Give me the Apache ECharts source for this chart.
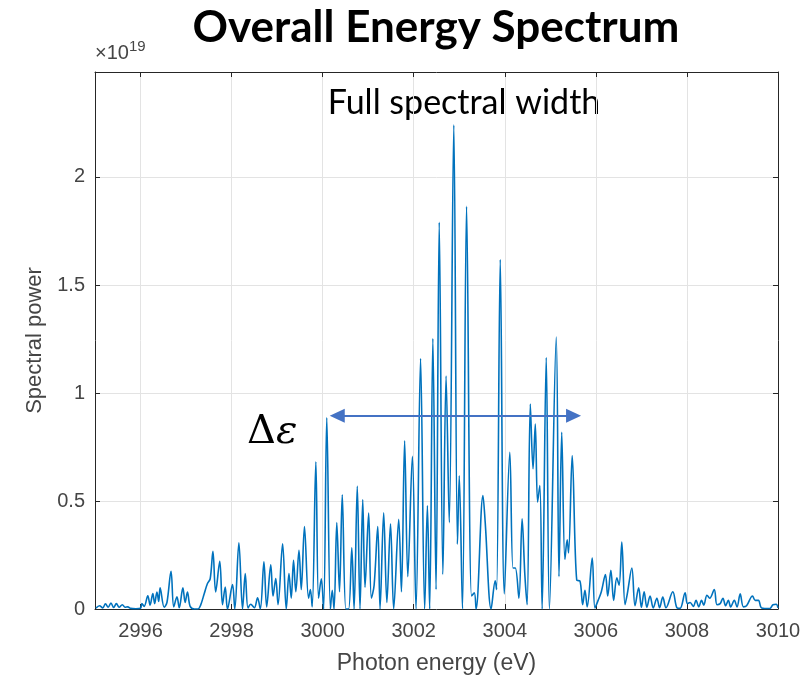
<!DOCTYPE html>
<html>
<head>
<meta charset="utf-8">
<style>
  html, body { margin: 0; padding: 0; background: #fff; }
  #chart { width: 812px; height: 680px; }
</style>
<script src="https://cdn.jsdelivr.net/npm/echarts@6/dist/echarts.min.js"></script>
</head>
<body>
<div id="chart"></div>
<script>
// Photon energy samples (eV) and spectral power (units of 1e19)
const energy = [
  2995.02, 2995.10, 2995.17, 2995.23, 2995.29, 2995.35, 2995.41, 2995.47, 2995.53, 2995.60,
  2995.66, 2995.72, 2995.78, 2995.90, 2996.00, 2996.03, 2996.08, 2996.16, 2996.21, 2996.27,
  2996.31, 2996.36, 2996.40, 2996.43, 2996.52, 2996.58, 2996.67, 2996.73, 2996.80, 2996.85,
  2996.93, 2996.98, 2997.03, 2997.09, 2997.18, 2997.26, 2997.32, 2997.40, 2997.47, 2997.53,
  2997.59, 2997.65, 2997.74, 2997.80, 2997.86, 2997.91, 2998.02, 2998.07, 2998.16, 2998.24,
  2998.30, 2998.36, 2998.42, 2998.50, 2998.57, 2998.63, 2998.71, 2998.77, 2998.86, 2998.91,
  2998.97, 2999.02, 2999.12, 2999.20, 2999.26, 2999.31, 2999.36, 2999.41, 2999.48, 2999.53,
  2999.60, 2999.69, 2999.73, 2999.77, 2999.85, 2999.91, 2999.97, 3000.02, 3000.09, 3000.17,
  3000.21, 3000.25, 3000.31, 3000.37, 3000.43, 3000.51, 3000.57, 3000.64, 3000.69, 3000.76,
  3000.82, 3000.88, 3000.93, 3001.01, 3001.07, 3001.13, 3001.21, 3001.26, 3001.34, 3001.41,
  3001.49, 3001.56, 3001.67, 3001.73, 3001.80, 3001.87, 3001.97, 3002.05, 3002.15, 3002.24,
  3002.30, 3002.35, 3002.42, 3002.49, 3002.56, 3002.64, 3002.71, 3002.78, 3002.88, 3002.96,
  3003.00, 3003.07, 3003.16, 3003.27, 3003.33, 3003.37, 3003.52, 3003.57, 3003.70, 3003.79,
  3003.82, 3003.90, 3003.99, 3004.11, 3004.18, 3004.23, 3004.31, 3004.38, 3004.44, 3004.49,
  3004.56, 3004.62, 3004.67, 3004.72, 3004.77, 3004.82, 3004.91, 3004.98, 3005.13, 3005.19,
  3005.25, 3005.32, 3005.37, 3005.40, 3005.48, 3005.58, 3005.65, 3005.71, 3005.76, 3005.81,
  3005.92, 3005.98, 3006.05, 3006.12, 3006.21, 3006.26, 3006.33, 3006.39, 3006.46, 3006.51,
  3006.57, 3006.64, 3006.69, 3006.79, 3006.86, 3006.94, 3007.00, 3007.06, 3007.12, 3007.19,
  3007.26, 3007.34, 3007.40, 3007.47, 3007.54, 3007.69, 3007.78, 3007.85, 3007.96, 3008.01,
  3008.07, 3008.14, 3008.20, 3008.26, 3008.32, 3008.37, 3008.44, 3008.50, 3008.60, 3008.66,
  3008.73, 3008.79, 3008.85, 3008.91, 3008.96, 3009.04, 3009.10, 3009.17, 3009.24, 3009.31,
  3009.44, 3009.50, 3009.57, 3009.64, 3009.82, 3009.89, 3009.96, 3010.00
];
const power = [
  0.004, 0.015, 0.005, 0.024, 0.008, 0.028, 0.007, 0.025, 0.008, 0.020,
  0.008, 0.010, 0.003, 0.001, 0.003, 0.025, 0.012, 0.061, 0.018, 0.072,
  0.025, 0.079, 0.035, 0.098, 0.008, 0.030, 0.175, 0.010, 0.056, 0.006,
  0.098, 0.030, 0.079, 0.012, 0.000, 0.000, 0.018, 0.072, 0.118, 0.140,
  0.267, 0.079, 0.221, 0.020, 0.102, 0.000, 0.113, 0.000, 0.307, 0.000,
  0.164, 0.005, 0.022, 0.006, 0.052, 0.000, 0.218, 0.010, 0.205, 0.060,
  0.141, 0.020, 0.302, 0.000, 0.164, 0.050, 0.225, 0.080, 0.272, 0.090,
  0.382, 0.050, 0.090, 0.010, 0.682, 0.050, 0.140, 0.000, 0.885, 0.000,
  0.087, 0.000, 0.400, 0.080, 0.529, 0.000, 0.000, 0.283, 0.000, 0.569,
  0.000, 0.507, 0.100, 0.444, 0.050, 0.110, 0.382, 0.000, 0.445, 0.030,
  0.395, 0.000, 0.415, 0.080, 0.779, 0.150, 0.707, 0.000, 1.160, 0.000,
  0.479, 0.000, 1.252, 0.090, 1.790, 0.160, 1.079, 0.400, 2.241, 0.300,
  0.617, 0.000, 1.864, 0.060, 0.075, 0.000, 0.525, 0.400, 0.000, 0.130,
  0.090, 1.618, 0.070, 0.726, 0.190, 0.190, 0.050, 0.418, 0.160, 0.020,
  0.949, 0.649, 0.856, 0.495, 0.571, 0.000, 1.164, 0.000, 1.259, 0.150,
  0.818, 0.230, 0.320, 0.260, 0.710, 0.133, 0.130, 0.020, 0.087, 0.010,
  0.236, 0.005, 0.040, 0.080, 0.159, 0.060, 0.179, 0.040, 0.145, 0.110,
  0.310, 0.020, 0.070, 0.190, 0.015, 0.098, 0.008, 0.080, 0.008, 0.060,
  0.005, 0.050, 0.006, 0.055, 0.006, 0.080, 0.006, 0.003, 0.075, 0.025,
  0.030, 0.012, 0.040, 0.010, 0.040, 0.018, 0.064, 0.050, 0.090, 0.020,
  0.025, 0.050, 0.015, 0.040, 0.010, 0.040, 0.010, 0.070, 0.010, 0.015,
  0.060, 0.040, 0.040, 0.005, 0.002, 0.020, 0.022, 0.005
];

// Axis ranges and tick labels
const xRange = [2995, 3010];
const yRange = [0, 2.486];
const yTicks = ['0', '0.5', '1', '1.5', '2'];

// Full-width span annotation (eV, arrowhead centres) and its height (1e19)
const spanEnergy = [3000.32, 3005.51];
const spanLevel = 0.895;

const axisColor = '#262626';
const labelColor = '#454545';
const gridColor = '#e3e3e3';
const tickFont = 'Liberation Sans, Arial, sans-serif';

const chart = echarts.init(document.getElementById('chart'), null, { renderer: 'canvas' });

const seriesData = energy.map((e, i) => [e, power[i]]);

const commonX = {
  type: 'value', min: xRange[0], max: xRange[1], splitNumber: 7,
  axisLine: { show: true, onZero: false, lineStyle: { color: axisColor, width: 1 } },
  axisTick: { show: true, inside: true, length: 5, lineStyle: { color: axisColor } }
};
const commonY = {
  type: 'value', min: yRange[0], max: yRange[1], interval: 0.5,
  axisLine: { show: true, onZero: false, lineStyle: { color: axisColor, width: 1 } },
  axisTick: { show: true, inside: true, length: 5, lineStyle: { color: axisColor } }
};

chart.setOption({
  animation: false,
  backgroundColor: '#ffffff',
  grid: { left: 95, right: 34, top: 72, bottom: 70, containLabel: false },
  xAxis: [
    Object.assign({}, commonX, {
      position: 'bottom',
      name: 'Photon energy (eV)', nameLocation: 'middle', nameGap: 43,
      nameTextStyle: { color: labelColor, fontSize: 23, fontFamily: tickFont },
      axisLabel: {
        color: labelColor, fontSize: 20, fontFamily: tickFont, margin: 12,
        formatter: v => (Math.round(v) % 2 === 0 ? String(Math.round(v)) : '')
      },
      splitLine: { show: true, lineStyle: { color: gridColor, width: 1 } }
    }),
    Object.assign({}, commonX, {
      position: 'top',
      axisLabel: { show: false },
      splitLine: { show: false }
    })
  ],
  yAxis: [
    Object.assign({}, commonY, {
      position: 'left',
      name: 'Spectral power', nameLocation: 'middle', nameGap: 49, nameRotate: 90,
      nameTextStyle: { color: labelColor, fontSize: 22, fontFamily: tickFont },
      axisLabel: {
        color: labelColor, fontSize: 20, fontFamily: tickFont, margin: 10,
        formatter: v => {
          const k = Math.round(v / 0.5);
          return Math.abs(v - k * 0.5) < 1e-6 && k < yTicks.length ? yTicks[k] : '';
        }
      },
      splitLine: { show: true, lineStyle: { color: gridColor, width: 1 } }
    }),
    Object.assign({}, commonY, {
      position: 'right',
      axisLabel: { show: false },
      splitLine: { show: false }
    })
  ],
  series: [{
    type: 'line',
    xAxisIndex: 0,
    yAxisIndex: 0,
    data: seriesData,
    showSymbol: false,
    smooth: 0.35,
    lineStyle: { color: '#0072BD', width: 1.6 },
    z: 3,
    markLine: {
      silent: true,
      symbol: ['triangle', 'triangle'],
      symbolSize: [14, 15],
      label: { show: false },
      lineStyle: { color: '#4472C4', width: 2, type: 'solid' },
      data: [[
        { coord: [spanEnergy[0], spanLevel] },
        { coord: [spanEnergy[1], spanLevel] }
      ]]
    }
  }],
  graphic: [
    {
      type: 'text', x: 436, y: 28,
      style: {
        text: 'Overall Energy Spectrum',
        fill: '#000', font: 'bold 44px Lato, "Open Sans", sans-serif',
        textAlign: 'center', textVerticalAlign: 'middle'
      }
    },
    {
      type: 'text', x: 95, y: 39,
      style: {
        text: '{a|×10}{b|19}',
        rich: {
          a: { fill: labelColor, fontSize: 20, fontFamily: tickFont, verticalAlign: 'bottom' },
          b: { fill: labelColor, fontSize: 15, fontFamily: tickFont, verticalAlign: 'top', padding: [0, 0, 9, 0] }
        }
      }
    },
    {
      type: 'text', x: 464, y: 103,
      style: {
        text: 'Full spectral width',
        fill: '#000', font: '34px Lato, "Open Sans", sans-serif',
        textAlign: 'center', textVerticalAlign: 'middle'
      }
    },
    {
      type: 'text', x: 247, y: 433,
      style: {
        text: '{d|Δ}{e|ε}',
        textVerticalAlign: 'middle',
        rich: {
          d: { fill: '#000', fontSize: 40, fontFamily: '"DejaVu Serif", serif' },
          e: { fill: '#000', fontSize: 40, fontFamily: '"DejaVu Serif", serif', fontStyle: 'italic' }
        }
      }
    }
  ]
});
</script>
</body>
</html>
